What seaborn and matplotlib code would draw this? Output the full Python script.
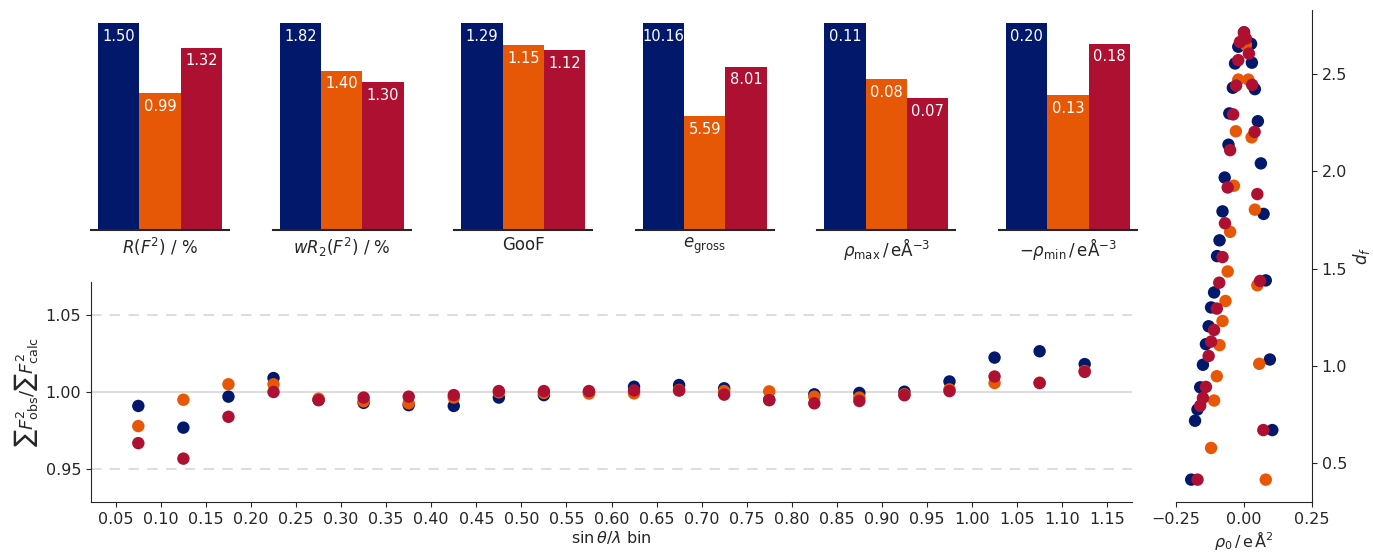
import numpy as np
import pandas as pd
import matplotlib
matplotlib.use("Agg")
import matplotlib.pyplot as plt
import seaborn as sns

# ---- data -------------------------------------------------------------
models = ["A", "B", "C"]
colors = ["#01186B", "#E65805", "#AD1030"]

metric_labels = [r"$R(F^2)$ / %", r"$wR_2(F^2)$ / %", "GooF",
                 r"$e_\mathrm{gross}$", r"$\rho_\mathrm{max}\,/\,\mathrm{e\AA^{-3}}$",
                 r"$-\rho_\mathrm{min}\,/\,\mathrm{e\AA^{-3}}$"]
metric_values = [
    [1.50, 0.99, 1.32],
    [1.82, 1.40, 1.30],
    [1.29, 1.15, 1.12],
    [10.16, 5.59, 8.01],
    [0.11, 0.08, 0.07],
    [0.20, 0.13, 0.18],
]

bins = [0.075, 0.125, 0.175, 0.225, 0.275, 0.325, 0.375, 0.425, 0.475, 0.525, 0.575,
        0.625, 0.675, 0.725, 0.775, 0.825, 0.875, 0.925, 0.975, 1.025, 1.075, 1.125]
ratio_a = [0.991, 0.977, 0.997, 1.009, 0.995, 0.993, 0.9915, 0.991, 0.9964, 0.998, 1.000,
           1.0034, 1.0045, 1.0024, 0.995, 0.9985, 0.9994, 1.0002, 1.0068, 1.0222, 1.0263, 1.018]
ratio_b = [0.978, 0.995, 1.005, 1.005, 0.9957, 0.994, 0.9927, 0.9964, 0.9998, 0.9994, 0.999,
           0.9991, 1.0013, 1.0006, 1.0004, 0.997, 0.9964, 0.9985, 1.0017, 1.0058, 1.006, 1.0135]
ratio_c = [0.967, 0.957, 0.984, 1.000, 0.9947, 0.9964, 0.997, 0.998, 1.0006, 1.0006, 1.0006,
           1.001, 1.0009, 0.9983, 0.9947, 0.9927, 0.9942, 0.9979, 1.0006, 1.010, 1.0058, 1.013]

rho_a = [0.000, -0.021, 0.026, -0.033, 0.029, -0.041, 0.040, -0.054, 0.051, -0.057, 0.062,
         -0.071, -0.079, 0.072, -0.090, -0.099, 0.080, -0.110, -0.121, -0.130, -0.140,
         -0.151, 0.095, -0.161, -0.171, -0.180, 0.104, -0.194]
df_a = [2.715, 2.641, 2.656, 2.555, 2.559, 2.430, 2.423, 2.298, 2.258, 2.137, 2.041,
        1.968, 1.794, 1.781, 1.645, 1.564, 1.439, 1.377, 1.300, 1.203, 1.111,
        1.005, 1.032, 0.889, 0.775, 0.717, 0.669, 0.414]
rho_b = [0.000, 0.007, -0.021, 0.016, -0.030, 0.028, -0.037, 0.040, -0.051, -0.060, 0.049,
         -0.068, -0.079, -0.090, 0.056, -0.100, -0.110, -0.121, 0.080]
df_b = [2.693, 2.650, 2.472, 2.472, 2.206, 2.175, 1.926, 1.803, 1.689, 1.485, 1.414,
        1.333, 1.230, 1.106, 1.010, 0.946, 0.821, 0.577, 0.414]
rho_c = [0.000, -0.015, 0.007, 0.018, -0.021, -0.029, 0.030, -0.040, 0.039, -0.051, -0.060,
         0.049, -0.070, -0.079, 0.059, -0.091, -0.100, -0.110, -0.121, -0.130, -0.140,
         -0.151, -0.161, 0.071, -0.171]
df_c = [2.715, 2.665, 2.683, 2.606, 2.572, 2.441, 2.445, 2.293, 2.203, 2.109, 1.917,
        1.883, 1.733, 1.559, 1.436, 1.427, 1.294, 1.184, 1.124, 1.050, 0.891,
        0.834, 0.794, 0.669, 0.414]

# ---- figure -----------------------------------------------------------
sns.set_style("ticks")
plt.rcParams["font.family"] = ["DejaVu Sans"]
plt.rcParams["mathtext.fontset"] = "dejavusans"

W, H = 1373, 552
fig = plt.figure(figsize=(W / 100, H / 100), dpi=100)


def px_axes(x0, y0, x1, y1):
    return fig.add_axes([x0 / W, 1 - y1 / H, (x1 - x0) / W, (y1 - y0) / H])


# bar panels
for i, (label, vals) in enumerate(zip(metric_labels, metric_values)):
    x0 = 91 + i * 181.6
    ax = px_axes(x0, 23, x0 + 138, 230)
    bar_df = pd.DataFrame({"model": models, "value": vals})
    sns.barplot(data=bar_df, x="model", y="value", hue="model", palette=colors,
                width=1.0, saturation=1, legend=False, ax=ax, linewidth=0)
    ax.set_xlim(-0.67, 2.67)
    ax.set_ylim(0, max(vals))
    for j, v in enumerate(vals):
        ax.annotate(f"{v:.2f}", (j, v), xytext=(0, -4), textcoords="offset points",
                    ha="center", va="top", color="white", fontsize=10.5)
    for s in ["top", "right", "left"]:
        ax.spines[s].set_visible(False)
    ax.spines["bottom"].set_linewidth(1.5)
    ax.set_yticks([])
    ax.set_xticks([])
    ax.set_ylabel("")
    ax.set_xlabel(label, fontsize=12, labelpad=4)

# ratio vs resolution
ax = px_axes(91, 282, 1132, 502)
ratio_df = pd.concat([
    pd.DataFrame({"bin": bins, "ratio": r, "model": m})
    for r, m in zip([ratio_a, ratio_b, ratio_c], models)
])
ax.axhline(1.00, color="#dddddd", lw=1.5, zorder=0)
ax.axhline(1.05, color="#dddddd", lw=1.5, ls=(0, (5, 4)), zorder=0)
ax.axhline(0.95, color="#dddddd", lw=1.5, ls=(0, (5, 4)), zorder=0)
sns.scatterplot(data=ratio_df, x="bin", y="ratio", hue="model", palette=colors,
                s=80, linewidth=0, legend=False, ax=ax)
ax.set_xlim(0.0225, 1.1775)
ax.set_ylim(0.929, 1.071)
ax.set_xticks(np.round(np.arange(0.05, 1.151, 0.05), 2))
ax.set_xticklabels([f"{t:.2f}" for t in np.arange(0.05, 1.151, 0.05)])
ax.set_yticks([0.95, 1.00, 1.05])
ax.tick_params(labelsize=11.5)
sns.despine(ax=ax)
ax.set_xlabel(r"$\sin\theta/\lambda$ bin", fontsize=11.5, labelpad=2)
ax.set_ylabel(r"$\sum F^2_\mathrm{obs}/\sum F^2_\mathrm{calc}$", fontsize=13)

# residual density
ax = px_axes(1176, 10, 1312, 502)
rho_df = pd.concat([
    pd.DataFrame({"rho": r, "df": d, "model": m})
    for r, d, m in zip([rho_a, rho_b, rho_c], [df_a, df_b, df_c], models)
])
sns.scatterplot(data=rho_df, x="rho", y="df", hue="model", palette=colors,
                s=80, linewidth=0, legend=False, ax=ax)
ax.set_xlim(-0.25, 0.25)
ax.set_xticks([-0.25, 0.0, 0.25])
ax.set_yticks([0.5, 1.0, 1.5, 2.0, 2.5])
ax.yaxis.tick_right()
ax.yaxis.set_label_position("right")
ax.spines["top"].set_visible(False)
ax.spines["left"].set_visible(False)
ax.tick_params(labelsize=11.5)
ax.set_xlabel(r"$\rho_0\,/\,\mathrm{e\,\AA^2}$", fontsize=11.5, labelpad=2)
ax.set_ylabel(r"$d_f$", fontsize=12, labelpad=3)

fig.savefig("out.png", dpi=100)
